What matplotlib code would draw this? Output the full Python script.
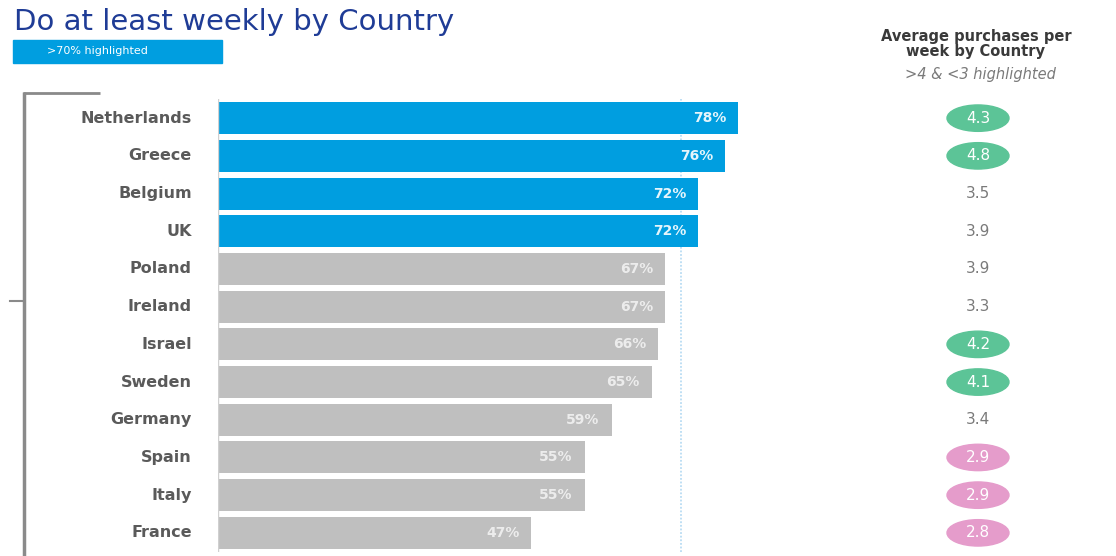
import matplotlib.pyplot as plt
from matplotlib.patches import Ellipse, Rectangle
from matplotlib.lines import Line2D

countries = ['Netherlands', 'Greece', 'Belgium', 'UK', 'Poland', 'Ireland',
             'Israel', 'Sweden', 'Germany', 'Spain', 'Italy', 'France']
weekly_pct = [78, 76, 72, 72, 67, 67, 66, 65, 59, 55, 55, 47]
avg_purchases = [4.3, 4.8, 3.5, 3.9, 3.9, 3.3, 4.2, 4.1, 3.4, 2.9, 2.9, 2.8]
threshold = 70

BLUE = '#009ee0'
GREY_BAR = '#bfbfbf'
GREEN = '#5cc497'
PINK = '#e59ccb'
TITLE = '#1f3c96'

W, H = 1116, 556
fig = plt.figure(figsize=(W / 100, H / 100), dpi=100)
plt.rcParams['font.family'] = ['DejaVu Sans']

def fx(px):
    return px / W

def fy(py):
    return 1 - py / H

n = len(countries)
row_h = 37.7
top, bottom = 99.3, 99.3 + row_h * n

# bar chart
ax = fig.add_axes([fx(218), fy(bottom), fx(667), (bottom - top) / H])
ax.set_xlim(0, 100)
ax.set_ylim(n - 0.5, -0.5)
ypos = list(range(n))
colors = [BLUE if v > threshold else GREY_BAR for v in weekly_pct]
ax.barh(ypos, weekly_pct, height=0.85, color=colors)
for y, v in zip(ypos, weekly_pct):
    ax.text(v - 1.8, y, f'{v}%', ha='right', va='center', fontsize=10,
            fontweight='bold', color='#ffffff' if v > threshold else '#f2f2f2',
            alpha=0.9)
    ax.text(-3.9, y, countries[y], ha='right', va='center', fontsize=11.5,
            fontweight='bold', color='#5a5a5a')
ax.axvline(threshold - 0.6, color='#b9dcf3', lw=1.3, ls=(0, (1, 1)), zorder=0)
ax.axvline(0, color='#d0d0d0', lw=1)
ax.axis('off')

# average purchases column
ax2 = fig.add_axes([fx(940), fy(bottom), fx(76), (bottom - top) / H])
ax2.set_xlim(0, 76)
ax2.set_ylim(n - 0.5, -0.5)
ax2.axis('off')
for y, v in zip(ypos, avg_purchases):
    if v > 4 or v < 3:
        ax2.add_patch(Ellipse((38, y), 62, 0.7, color=GREEN if v > 4 else PINK))
        ax2.text(38, y, f'{v}', ha='center', va='center', fontsize=11,
                 color='white')
    else:
        ax2.text(38, y, f'{v}', ha='center', va='center', fontsize=11,
                 color='#7a7a7a')

# titles and key
fig.text(fx(14), fy(22), 'Do at least weekly by Country', fontsize=21,
         color=TITLE, ha='left', va='center')
fig.patches.append(Rectangle((fx(13), fy(63)), fx(209), (63 - 40) / H,
                             color=BLUE, transform=fig.transFigure))
fig.text(fx(97), fy(51.5), '>70% highlighted', fontsize=8, color='white',
         ha='center', va='center')
fig.text(fx(976), fy(44), 'Average purchases per\nweek by Country',
         fontsize=10.5, fontweight='bold', color='#3a3a3a', ha='center',
         va='center', linespacing=1.0)
fig.text(fx(980), fy(74), '>4 & <3 highlighted', fontsize=10.5,
         style='italic', color='#7a7a7a', ha='center', va='center')

# bracket on the left
lc = '#8a8a8a'
fig.lines.append(Line2D([fx(24), fx(24)], [fy(92), fy(556)], color=lc, lw=2.5,
                        solid_capstyle='butt', transform=fig.transFigure))
fig.lines.append(Line2D([fx(23), fx(100)], [fy(92.5), fy(92.5)], color=lc,
                        lw=2, solid_capstyle='butt', transform=fig.transFigure))
fig.lines.append(Line2D([fx(10), fx(24)], [fy(301), fy(301)], color=lc, lw=1.5,
                        transform=fig.transFigure))

fig.savefig('out.png', dpi=100)
